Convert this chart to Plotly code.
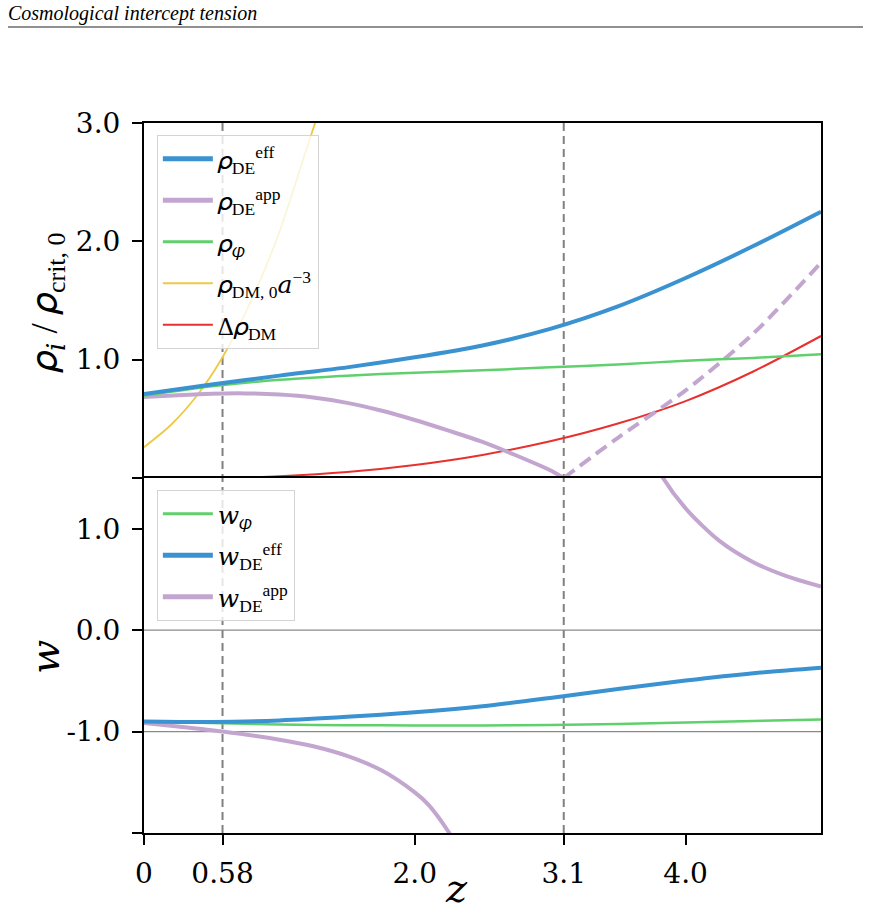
import plotly.graph_objects as go
from plotly.subplots import make_subplots

# ---------------- data ----------------
z_markers = [0.58, 3.1]

z_eff = [0, 0.5, 1.0, 1.5, 2.0, 2.5, 3.0, 3.5, 4.0, 4.5, 5.0]
rho_eff = [0.71, 0.79, 0.865, 0.935, 1.02, 1.12, 1.26, 1.45, 1.69, 1.96, 2.25]

z_app_pos = [0, 0.25, 0.5, 0.75, 1.0, 1.25, 1.5, 1.75, 2.0, 2.25, 2.5, 2.75, 3.0, 3.1]
rho_app_pos = [0.685, 0.70, 0.712, 0.715, 0.705, 0.68, 0.635, 0.57, 0.49, 0.40, 0.305, 0.19, 0.065, 0.0]
z_app_neg = [3.1, 3.5, 4.0, 4.5, 5.0]
rho_app_neg = [0.0, 0.34, 0.74, 1.22, 1.82]

z_phi = [0, 0.5, 1.0, 1.5, 2.0, 2.5, 3.0, 3.5, 4.0, 4.5, 5.0]
rho_phi = [0.695, 0.775, 0.83, 0.865, 0.89, 0.91, 0.935, 0.96, 0.99, 1.015, 1.045]

z_dm = [0, 0.2, 0.4, 0.58, 0.8, 1.0, 1.2, 1.35]
rho_dm = [0.26, 0.45, 0.71, 1.02, 1.52, 2.08, 2.78, 3.3]

z_ddm = [0.58, 1.0, 1.5, 2.0, 2.5, 3.0, 3.5, 4.0, 4.5, 5.0]
rho_ddm = [0.0, 0.015, 0.05, 0.11, 0.195, 0.31, 0.46, 0.65, 0.90, 1.20]

z_wphi = [0, 0.5, 1.0, 1.5, 2.0, 2.5, 3.0, 3.5, 4.0, 4.5, 5.0]
w_phi = [-0.90, -0.915, -0.93, -0.937, -0.94, -0.94, -0.935, -0.925, -0.91, -0.895, -0.88]

z_weff = [0, 0.5, 1.0, 1.5, 2.0, 2.5, 3.0, 3.5, 4.0, 4.5, 5.0]
w_eff = [-0.90, -0.905, -0.89, -0.855, -0.81, -0.75, -0.668, -0.58, -0.497, -0.425, -0.37]

z_wapp_lo = [0, 0.25, 0.58, 1.0, 1.25, 1.5, 1.75, 2.0, 2.1, 2.25, 2.35]
w_app_lo = [-0.915, -0.95, -1.0, -1.08, -1.145, -1.24, -1.38, -1.60, -1.72, -1.99, -2.22]
z_wapp_hi = [3.6, 3.7, 3.81, 4.0, 4.25, 4.5, 4.75, 5.0]
w_app_hi = [2.3, 1.85, 1.55, 1.2, 0.88, 0.67, 0.53, 0.43]

x_tickvals = [0, 0.58, 2.0, 3.1, 4.0]
x_ticktext = ["0", "0.58", "2.0", "3.1", "4.0"]
y1_tickvals = [0, 1, 2, 3]
y1_ticktext = ["", "1.0", "2.0", "3.0"]
y2_tickvals = [-2, -1, 0, 1]
y2_ticktext = ["", "-1.0", "0.0", "1.0"]

# math-italic symbols
RHO, W, Z, I_, A_, PHI = "\U0001D70C", "\U0001D464", "\U0001D467", "\U0001D456", "\U0001D44E", "\U0001D711"

# ---------------- styles ----------------
BLUE = "#3a92d0"
PURPLE = "#c3a6cf"
GREEN = "#5fd06c"
YELLOW = "#eec944"
RED = "#e8302e"
MATH = "Liberation Serif, DejaVu Serif, serif"
TICKF = dict(family="DejaVu Serif", size=28, color="black")

fig = make_subplots(rows=2, cols=1, shared_xaxes=True, vertical_spacing=0)


def add(x, y, color, width, row, dash=None):
    fig.add_trace(go.Scatter(
        x=x, y=y, mode="lines", showlegend=False, hoverinfo="skip",
        line=dict(color=color, width=width, shape="spline", smoothing=0.8, dash=dash),
    ), row=row, col=1)


def legend_entry(name, color, width, row, legend):
    fig.add_trace(go.Scatter(x=[None], y=[None], mode="lines", name=name,
                             line=dict(color=color, width=width), legend=legend,
                             legendgroup=legend + name),
                  row=row, col=1)


# top panel
add(z_dm, rho_dm, YELLOW, 1.8, 1)
add(z_ddm, rho_ddm, RED, 2, 1)
add(z_app_pos, rho_app_pos, PURPLE, 4, 1)
add(z_app_neg, rho_app_neg, PURPLE, 4, 1, dash="13px,7px")
add(z_phi, rho_phi, GREEN, 2.5, 1)
add(z_eff, rho_eff, BLUE, 4, 1)

for nm, col, wd in [(f"{RHO}<sub>DE</sub><sup>eff</sup>", BLUE, 5),
                    (f"{RHO}<sub>DE</sub><sup>app</sup>", PURPLE, 5),
                    (f"{RHO}<sub>{PHI}</sub>", GREEN, 3),
                    (f"{RHO}<sub>DM, 0</sub>{A_}<sup>−3</sup>", YELLOW, 2),
                    (f"Δ{RHO}<sub>DM</sub>", RED, 2)]:
    legend_entry(nm, col, wd, 1, "legend")

# bottom panel
add(z_wapp_lo, w_app_lo, PURPLE, 4, 2)
add(z_wapp_hi, w_app_hi, PURPLE, 4, 2)
add(z_wphi, w_phi, GREEN, 2.5, 2)
add(z_weff, w_eff, BLUE, 4, 2)
for nm, col, wd in [(f"{W}<sub>{PHI}</sub>", GREEN, 3),
                    (f"{W}<sub>DE</sub><sup>eff</sup>", BLUE, 5),
                    (f"{W}<sub>DE</sub><sup>app</sup>", PURPLE, 5)]:
    legend_entry(nm, col, wd, 2, "legend2")

# reference lines
for zm in z_markers:
    fig.add_shape(type="line", xref="x", yref="paper", x0=zm, x1=zm, y0=0, y1=1,
                  line=dict(color="#808080", width=2, dash="8px,5px"), layer="below")
for wv in [0.0, -1.0]:
    fig.add_shape(type="line", xref="paper", yref="y2", x0=0, x1=1, y0=wv, y1=wv,
                  line=dict(color="#8a8a8a", width=1.3), layer="below")

fig.update_xaxes(range=[0, 5], tickvals=x_tickvals, ticktext=x_ticktext,
                 showgrid=False, zeroline=False, tickfont=TICKF)
fig.update_xaxes(ticks="", showticklabels=False, side="top", showline=True,
                 linecolor="black", linewidth=2, mirror=False, row=1, col=1)
fig.update_xaxes(ticks="outside", ticklen=10, tickwidth=1.5, tickcolor="black",
                 showticklabels=True, ticklabelstandoff=4, showline=True,
                 linecolor="black", linewidth=2, mirror=True, row=2, col=1)
ycommon = dict(showline=True, linecolor="black", linewidth=2, mirror=True,
               showgrid=False, zeroline=False, tickfont=TICKF,
               ticks="outside", ticklen=10, tickwidth=1.5, tickcolor="black",
               ticklabelstandoff=6)
fig.update_yaxes(range=[0, 3], tickvals=y1_tickvals, ticktext=y1_ticktext,
                 row=1, col=1, **ycommon)
fig.update_yaxes(range=[-2, 1.5], tickvals=y2_tickvals, ticktext=y2_ticktext,
                 row=2, col=1, **ycommon)

legend_style = dict(bgcolor="rgba(255,255,255,0.8)", bordercolor="#d4d4d4", borderwidth=1,
                    font=dict(family=MATH, size=25, color="black"),
                    xanchor="left", yanchor="top", traceorder="grouped",
                    tracegroupgap=6, itemwidth=50)
fig.update_layout(
    width=871, height=914,
    margin=dict(l=144, r=50, t=123, b=81, autoexpand=False),
    paper_bgcolor="white", plot_bgcolor="white",
    legend=dict(x=0.019, y=0.983, **legend_style),
    legend2=dict(x=0.019, y=0.483, **legend_style),
)

# axis titles
fig.add_annotation(xref="paper", yref="paper", x=(47 - 144) / 677, y=(833 - 303) / 710,
                   text=f"{RHO}<sub>{I_}</sub> / {RHO}<sub>crit, 0</sub>",
                   textangle=-90, showarrow=False, xanchor="center", yanchor="middle",
                   font=dict(family=MATH, size=37, color="black"))
fig.add_annotation(xref="paper", yref="paper", x=(45 - 144) / 677, y=(833 - 657) / 710,
                   text=W, textangle=-90, showarrow=False,
                   xanchor="center", yanchor="middle",
                   font=dict(family=MATH, size=40, color="black"))
fig.add_annotation(xref="paper", yref="paper", x=(456 - 144) / 677, y=(833 - 889) / 710,
                   text=Z, showarrow=False, xanchor="center", yanchor="middle",
                   font=dict(family=MATH, size=40, color="black"))

# header
fig.add_annotation(xref="paper", yref="paper", x=(6 - 144) / 677, y=(833 - 14) / 710,
                   text="<i>Cosmological intercept tension</i>", showarrow=False,
                   xanchor="left", yanchor="middle",
                   font=dict(family=MATH, size=20, color="black"))
fig.add_shape(type="line", xref="paper", yref="paper",
              x0=(8 - 144) / 677, x1=(863 - 144) / 677,
              y0=(833 - 27) / 710, y1=(833 - 27) / 710,
              line=dict(color="#222222", width=1.2))

fig.write_html("out.html")
